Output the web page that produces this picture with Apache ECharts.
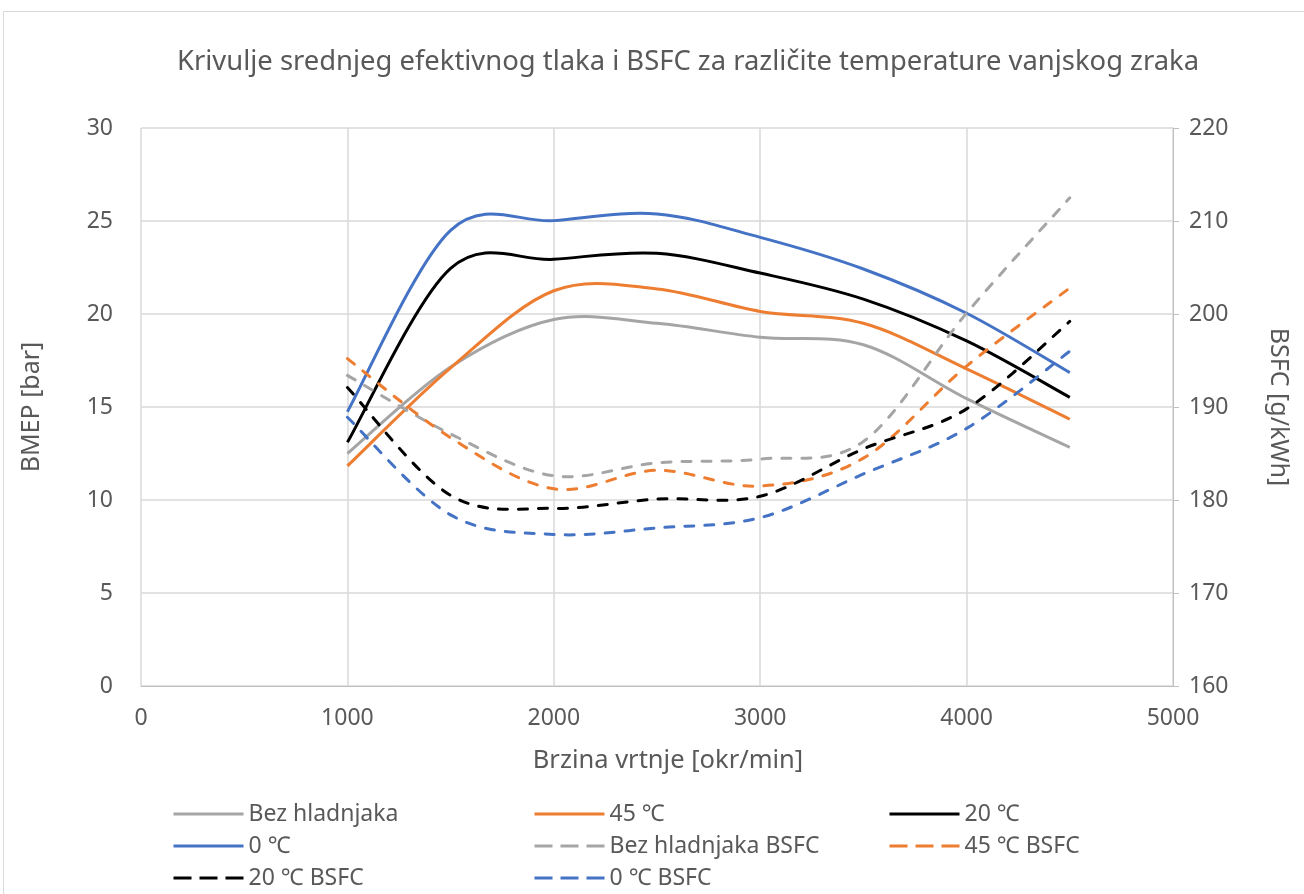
<!DOCTYPE html>
<html>
<head>
<meta charset="utf-8">
<script src="https://cdn.jsdelivr.net/npm/echarts@6/dist/echarts.min.js"></script>
<style>
  html, body { margin: 0; padding: 0; background: #ffffff; }
  #chart { width: 1304px; height: 894px; }
</style>
</head>
<body>
<div id="chart"></div>
<script>
// Engine speed points [okr/min]
const rpm = [1000, 1500, 2000, 2500, 3000, 3500, 4000, 4500];

// BMEP [bar]
const bmepBez = [12.5, 17.15, 19.7, 19.5, 18.75, 18.35, 15.45, 12.83];
const bmep45  = [11.83, 17.1, 21.25, 21.35, 20.14, 19.5, 17.05, 14.34];
const bmep20  = [13.1, 22.45, 22.94, 23.26, 22.2, 20.8, 18.55, 15.52];
const bmep0   = [14.75, 24.5, 25.02, 25.38, 24.12, 22.42, 20.04, 16.85];

// BSFC [g/kWh]
const bsfcBez = [193.4, 187.1, 182.6, 184.0, 184.4, 186.3, 200.1, 212.5];
const bsfc45  = [195.2, 186.7, 181.2, 183.2, 181.5, 184.5, 194.4, 202.8];
const bsfc20  = [192.1, 180.5, 179.1, 180.1, 180.4, 185.5, 189.8, 199.2];
const bsfc0   = [188.9, 178.4, 176.3, 177.0, 178.1, 182.8, 187.7, 196.0];

const names = {
  bez: 'Bez hladnjaka', t45: '45 \u2103', t20: '20 \u2103', t0: '0 \u2103',
  bezB: 'Bez hladnjaka BSFC', t45B: '45 \u2103 BSFC', t20B: '20 \u2103 BSFC', t0B: '0 \u2103 BSFC'
};

const FONT = 'Noto Sans';
const TEXT = '#595959';
const GRID = '#d9d9d9';
const DASH = [9, 11];
const LEGEND_DASH = [18, 8];

function pairs(ys) { return rpm.map((x, i) => [x, ys[i]]); }

// Smooth curve through the points (Catmull-Rom converted to cubic Bezier),
// computed in pixel space after mapping each point through the axes.
function smoothPath(api, ys) {
  const p = rpm.map((x, i) => api.coord([x, ys[i]]));
  const n = p.length;
  let d = 'M' + p[0][0] + ',' + p[0][1];
  for (let i = 0; i < n - 1; i++) {
    const p0 = p[Math.max(i - 1, 0)];
    const p1 = p[i];
    const p2 = p[i + 1];
    const p3 = p[Math.min(i + 2, n - 1)];
    const c1x = p1[0] + (p2[0] - p0[0]) / 6;
    const c1y = p1[1] + (p2[1] - p0[1]) / 6;
    const c2x = p2[0] - (p3[0] - p1[0]) / 6;
    const c2y = p2[1] - (p3[1] - p1[1]) / 6;
    d += ' C' + c1x + ',' + c1y + ' ' + c2x + ',' + c2y + ' ' + p2[0] + ',' + p2[1];
  }
  return d;
}

// Legend entry: a line series without data, so the legend shows its line style.
function legendEntry(name, color, dashed, axis) {
  return {
    name: name,
    type: 'line',
    yAxisIndex: axis,
    data: [],
    symbol: 'none',
    lineStyle: { color: color, width: 3, type: dashed ? DASH : 'solid', cap: dashed ? 'round' : 'butt' },
    itemStyle: { color: color }
  };
}

// The curve itself, drawn with a custom series through the same axes.
function curve(name, ys, color, dashed, axis) {
  return {
    name: name,
    type: 'custom',
    yAxisIndex: axis,
    data: pairs(ys),
    encode: { x: 0, y: 1 },
    silent: true,
    z: dashed ? 3 : 2,
    renderItem: function (params, api) {
      if (params.dataIndex !== 0) return null;
      return {
        type: 'path',
        shape: { pathData: smoothPath(api, ys) },
        style: {
          fill: 'none',
          stroke: color,
          lineWidth: 3,
          lineDash: dashed ? DASH : null,
          lineCap: dashed ? 'round' : 'butt',
          lineJoin: 'round'
        }
      };
    }
  };
}

function legendItem(name, dashed) {
  return dashed
    ? { name: name, lineStyle: { type: LEGEND_DASH, cap: 'butt' } }
    : { name: name };
}

function legendCol(left, items) {
  return {
    orient: 'vertical',
    left: left,
    top: 802,
    height: 110,
    padding: 0,
    itemWidth: 70,
    itemHeight: 14,
    itemGap: 8,
    itemStyle: { opacity: 0 },
    lineStyle: { width: 3 },
    textStyle: { color: TEXT, fontSize: 23, fontFamily: FONT, lineHeight: 24 },
    data: items
  };
}

const defs = [
  [names.bez, bmepBez, '#A5A5A5', false, 0],
  [names.t45, bmep45, '#ED7D31', false, 0],
  [names.t20, bmep20, '#000000', false, 0],
  [names.t0, bmep0, '#4472C4', false, 0],
  [names.bezB, bsfcBez, '#A5A5A5', true, 1],
  [names.t45B, bsfc45, '#ED7D31', true, 1],
  [names.t20B, bsfc20, '#000000', true, 1],
  [names.t0B, bsfc0, '#4472C4', true, 1]
];

const series = defs.map(d => legendEntry(d[0], d[2], d[3], d[4]))
  .concat(defs.map(d => curve(d[0], d[1], d[2], d[3], d[4])));

const chart = echarts.init(document.getElementById('chart'), null, { renderer: 'canvas' });

chart.setOption({
  animation: false,
  backgroundColor: '#ffffff',
  graphic: [{
    type: 'rect',
    shape: { x: 3.5, y: 11.5, width: 1320, height: 900 },
    style: { fill: 'none', stroke: GRID, lineWidth: 1 },
    silent: true, z: -1
  }],
  title: {
    text: 'Krivulje srednjeg efektivnog tlaka i BSFC za razli\u010dite temperature vanjskog zraka',
    left: 172,
    top: 44,
    textStyle: { color: TEXT, fontSize: 27.4, fontWeight: 'normal', fontFamily: FONT }
  },
  grid: { left: 141, right: 131, top: 128, bottom: 208, containLabel: false },
  legend: [
    legendCol(172, [legendItem(names.bez, false), legendItem(names.t0, false), legendItem(names.t20B, true)]),
    legendCol(533, [legendItem(names.t45, false), legendItem(names.bezB, true), legendItem(names.t0B, true)]),
    legendCol(888, [legendItem(names.t20, false), legendItem(names.t45B, true)])
  ],
  xAxis: {
    type: 'value',
    min: 0, max: 5000, interval: 1000,
    name: 'Brzina vrtnje [okr/min]',
    nameLocation: 'middle',
    nameGap: 62,
    nameTextStyle: { color: TEXT, fontSize: 25.5, fontFamily: FONT, padding: [0, 0, 0, 22] },
    axisLine: { show: true, lineStyle: { color: '#bfbfbf', width: 1 } },
    axisTick: { show: false },
    axisLabel: { color: TEXT, fontSize: 23, fontFamily: FONT, margin: 21, formatter: v => String(v) },
    splitLine: { show: true, lineStyle: { color: GRID, width: 1.5 } }
  },
  yAxis: [{
    type: 'value',
    min: 0, max: 30, interval: 5,
    position: 'left',
    name: 'BMEP [bar]',
    nameLocation: 'middle',
    nameGap: 97,
    nameRotate: 90,
    nameTextStyle: { color: TEXT, fontSize: 25, fontFamily: FONT },
    axisLine: { show: false },
    axisTick: { show: false },
    axisLabel: { color: TEXT, fontSize: 23, fontFamily: FONT, margin: 28 },
    splitLine: { show: true, lineStyle: { color: GRID, width: 1.5 } }
  }, {
    type: 'value',
    min: 160, max: 220, interval: 10,
    position: 'right',
    name: 'BSFC [g/kWh]',
    nameLocation: 'middle',
    nameGap: 93,
    nameRotate: -90,
    nameTextStyle: { color: TEXT, fontSize: 25, fontFamily: FONT },
    axisLine: { show: true, lineStyle: { color: '#bfbfbf', width: 1 } },
    axisTick: { show: true, inside: false, length: 6, lineStyle: { color: '#bfbfbf' } },
    axisLabel: { color: TEXT, fontSize: 23, fontFamily: FONT, margin: 16 },
    splitLine: { show: false }
  }],
  series: series
});
</script>
</body>
</html>
